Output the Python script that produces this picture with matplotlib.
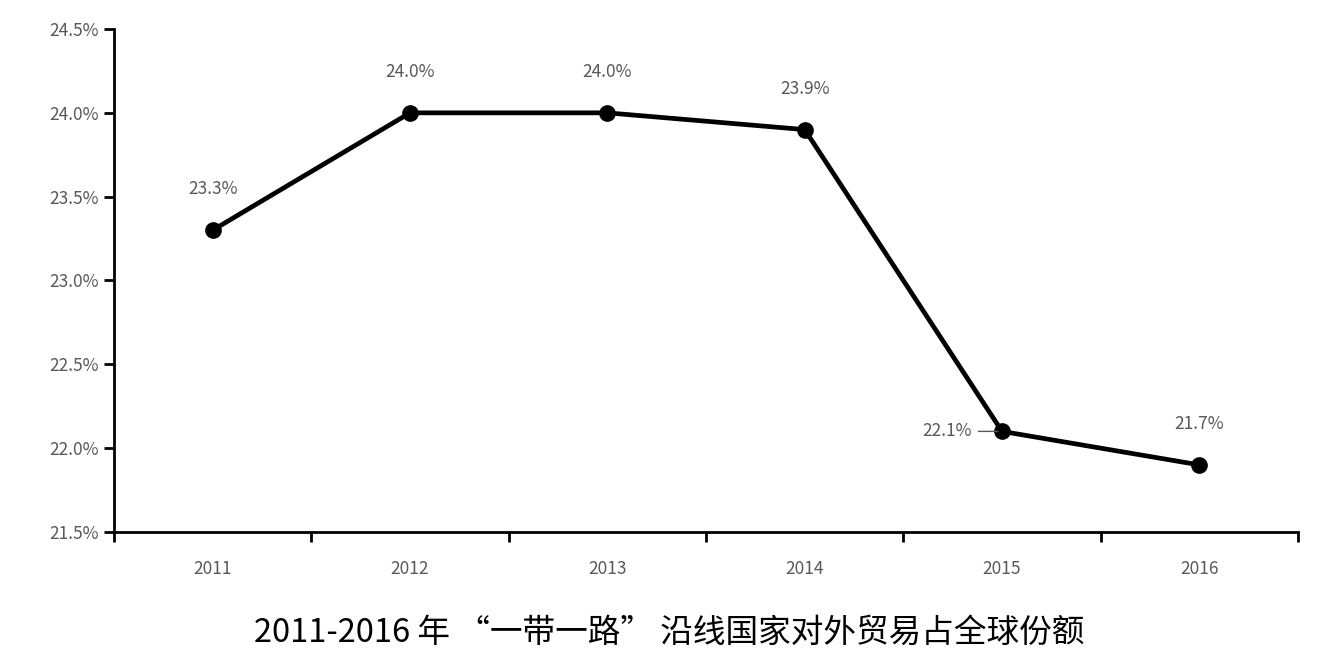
import matplotlib.pyplot as plt

plt.rcParams['font.family'] = ['Noto Sans CJK SC', 'DejaVu Sans']

years = ['2011', '2012', '2013', '2014', '2015', '2016']
share = [23.3, 24.0, 24.0, 23.9, 22.1, 21.9]
point_labels = ['23.3%', '24.0%', '24.0%', '23.9%', '22.1%', '21.7%']
yticks = [21.5, 22.0, 22.5, 23.0, 23.5, 24.0, 24.5]
title = '2011-2016 年 \u201c一带一路\u201d 沿线国家对外贸易占全球份额'

fig = plt.figure(figsize=(13.33, 6.61), dpi=100)
ax = fig.add_axes([0.0855, 0.1952, 0.8883, 0.7609])

x = list(range(len(years)))
ax.plot(x, share, 'k-', lw=3.4, marker='o', markersize=11, solid_joinstyle='round')

gray = '#595959'
for i in range(len(x)):
 if i == 4:
  # label on the left with a short leader line
  ax.annotate(point_labels[i], xy=(x[i], share[i]), xytext=(-22, 0), textcoords='offset points',
              ha='right', va='center', fontsize=12.5, color=gray,
              arrowprops=dict(arrowstyle='-', color=gray, lw=1, shrinkA=3, shrinkB=3))
 else:
  ax.annotate(point_labels[i], xy=(x[i], share[i]), xytext=(0, 23), textcoords='offset points',
              ha='center', va='bottom', fontsize=12.5, color=gray)

ax.set_xlim(-0.5, 5.5)
ax.set_ylim(21.5, 24.5)
ax.set_yticks(yticks)
ax.set_yticklabels(['%.1f%%' % v for v in yticks])
ax.set_xticks(x)
ax.set_xticklabels(years)
ax.set_xticks([i - 0.5 for i in range(len(years) + 1)], minor=True)

for s in ['top', 'right']:
 ax.spines[s].set_visible(False)
for s in ['left', 'bottom']:
 ax.spines[s].set_linewidth(2)
 ax.spines[s].set_color('black')

ax.tick_params(axis='y', length=7, width=2, colors='black', labelcolor=gray, labelsize=12.5, pad=4)
ax.tick_params(axis='x', which='major', length=0, labelcolor=gray, labelsize=12.5, pad=20)
ax.tick_params(axis='x', which='minor', length=7, width=2, color='black')

fig.text(0.502, 0.043, title, ha='center', va='center', fontsize=23.5, color='black')

fig.savefig('out.png', dpi=100)
plt.close(fig)
